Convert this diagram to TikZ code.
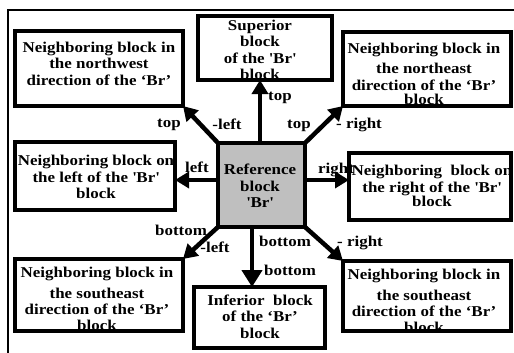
\documentclass[tikz,border=0pt]{standalone}
\usepackage{fontspec}
\setmainfont[FakeStretch=1.13]{Liberation Serif}
\usetikzlibrary{arrows.meta}
\newcommand{\sq}{\textquotesingle}
\begin{document}
\begin{tikzpicture}[x=1pt,y=-1pt,
  box/.style={draw, line width=4pt, fill=white, inner sep=0pt, outer sep=0pt},
  refbox/.style={box, fill=black!25},
  txt/.style={font=\fontsize{15}{16.5}\selectfont\bfseries, align=center, inner sep=0pt},
  lbl/.style={font=\fontsize{15}{16.5}\selectfont\bfseries, inner sep=0pt, anchor=base},
  arr/.style={line width=4.5pt, -{Triangle[length=14pt,width=16pt]}},
  bigarr/.style={line width=4.5pt, -{Triangle[length=17pt,width=20pt]}},
  frame/.style={line width=1.2pt}]
\useasboundingbox (0,0) rectangle (514,353);
\draw[frame] (514,10) -- (8,10) -- (8,353);
% boxes
\node[box, minimum width=168pt, minimum height=75pt] (nw) at (99,68.5) {};
\node[box, minimum width=134pt, minimum height=64pt] (sup) at (265,48) {};
\node[box, minimum width=168pt, minimum height=74pt] (ne) at (427,69) {};
\node[box, minimum width=160pt, minimum height=68pt] (left) at (95,176) {};
\node[refbox, minimum width=87pt, minimum height=84pt] (ref) at (261.5,185) {};
\node[box, minimum width=162pt, minimum height=67pt] (right) at (430,186.5) {};
\node[box, minimum width=168pt, minimum height=72pt] (sw) at (99,295) {};
\node[box, minimum width=131pt, minimum height=61pt] (inf) at (259.5,317.5) {};
\node[box, minimum width=168pt, minimum height=70pt] (se) at (427,296) {};
% texts
\node[txt] (tnw) at (99,63.5) {Neighboring block in\\the northwest\\direction of the ‘Br’};
\node[txt] (tsup) at (260,50) {Superior\\block\\of the \sq Br\sq\\block};
\node[txt] (tne) at (424,74) {Neighboring block in\\[4pt]the northeast\\direction of the ‘Br’\\[-2pt]block};
\node[txt] (tleft) at (96,177) {Neighboring block on\\the left of the \sq Br\sq\\block};
\node[txt] (tright) at (432,186) {Neighboring\ \ block on\\the right of the \sq Br\sq\\[-2pt]block};
\node[txt] (tref) at (260,186) {Reference\\block\\\sq Br\sq};
\node[txt] (tsw) at (97,299) {Neighboring block in\\[4pt]the southeast\\direction of the ‘Br’\\[-1pt]block};
\node[txt] (tinf) at (260,316.5) {Inferior\ \ block\\of the ‘Br’\\block};
\node[txt] (tse) at (424,301) {Neighboring block in\\[4pt]the southeast\\direction of the ‘Br’\\[-1pt]block};
% arrows
\draw[arr] (ref.north west) -- (nw.south east);
\draw[arr] ([xshift=-1.5pt]ref.north) -- ([xshift=-1.5pt]ref.north |- sup.south);
\draw[arr] (ref.north east) -- (ne.south west);
\draw[arr] ([yshift=5pt]ref.west) -- ([yshift=5pt]ref.west -| left.east);
\draw[arr] ([yshift=5pt]ref.east) -- ([yshift=5pt]ref.east -| right.west);
\draw[bigarr] ([xshift=-9.5pt]ref.south) -- ([xshift=-9.5pt]ref.south |- inf.north);
\draw[arr] (ref.south west) -- (sw.north east);
\draw[arr] (ref.south east) -- (se.north west);
% labels
\node[lbl] (l1) at (169,127) {top};
\node[lbl] (l2) at (227,129) {-left};
\node[lbl] (l3) at (280,100) {top};
\node[lbl] (l4) at (299,128) {top};
\node[lbl] (l5) at (359,128) {- right};
\node[lbl] (l6) at (197,172) {left};
\node[lbl] (l7) at (336,173) {right};
\node[lbl] (l8) at (181,235) {bottom};
\node[lbl] (l9) at (215,252) {-left};
\node[lbl] (l10) at (285,246) {bottom};
\node[lbl] (l11) at (360,246) {- right};
\node[lbl] (l12) at (290,275) {bottom};
\end{tikzpicture}
\end{document}
